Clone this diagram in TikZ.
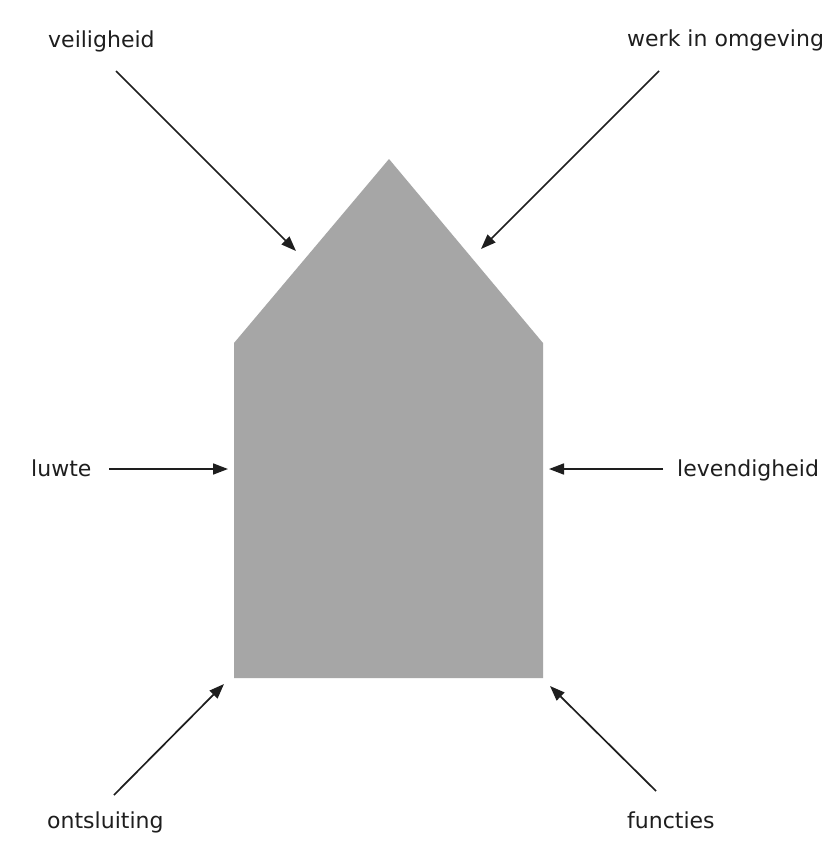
\documentclass[tikz,border=0pt]{standalone}
\usepackage{fontspec}
\setmainfont{DejaVu Sans}
\usetikzlibrary{arrows.meta}
\definecolor{housegray}{HTML}{A6A6A6}
\definecolor{ink}{HTML}{1E1E1E}
\begin{document}
\begin{tikzpicture}[x=1pt,y=-1pt,
  lbl/.style={anchor=base west,inner sep=0pt,text=ink,font=\fontsize{22}{26}\selectfont},
  arr/.style={draw=ink,line width=1.7pt,-{Triangle[length=15pt,width=11pt]}}]
\useasboundingbox[fill=white] (0,0) rectangle (828,843);
% house
\fill[housegray] (234,678) -- (543,678) -- (543,343) -- (389,159) -- (234,343) -- cycle;
% labels
\node[lbl] (veil) at (48,48) {veiligheid};
\node[lbl] (werk) at (627,47) {werk in omgeving};
\node[lbl] (luwte) at (31,476) {luwte};
\node[lbl] (lev) at (677,476) {levendigheid};
\node[lbl] (ont) at (47,828) {ontsluiting};
\node[lbl] (func) at (627,828) {functies};
% arrow endpoints
\coordinate (veilS) at (116,71);  \coordinate (veilE) at (296,251);
\coordinate (werkS) at (659,71);  \coordinate (werkE) at (481,249);
\coordinate (luwS) at (109,469);  \coordinate (luwE) at (228,469);
\coordinate (levS) at (663,469);  \coordinate (levE) at (549,469);
\coordinate (ontS) at (114,795);  \coordinate (ontE) at (224,684);
\coordinate (funS) at (656,791);  \coordinate (funE) at (550,686);
\draw[arr] (veilS) -- (veilE);
\draw[arr] (werkS) -- (werkE);
\draw[arr] (luwS) -- (luwE);
\draw[arr] (levS) -- (levE);
\draw[arr] (ontS) -- (ontE);
\draw[arr] (funS) -- (funE);
\end{tikzpicture}
\end{document}
